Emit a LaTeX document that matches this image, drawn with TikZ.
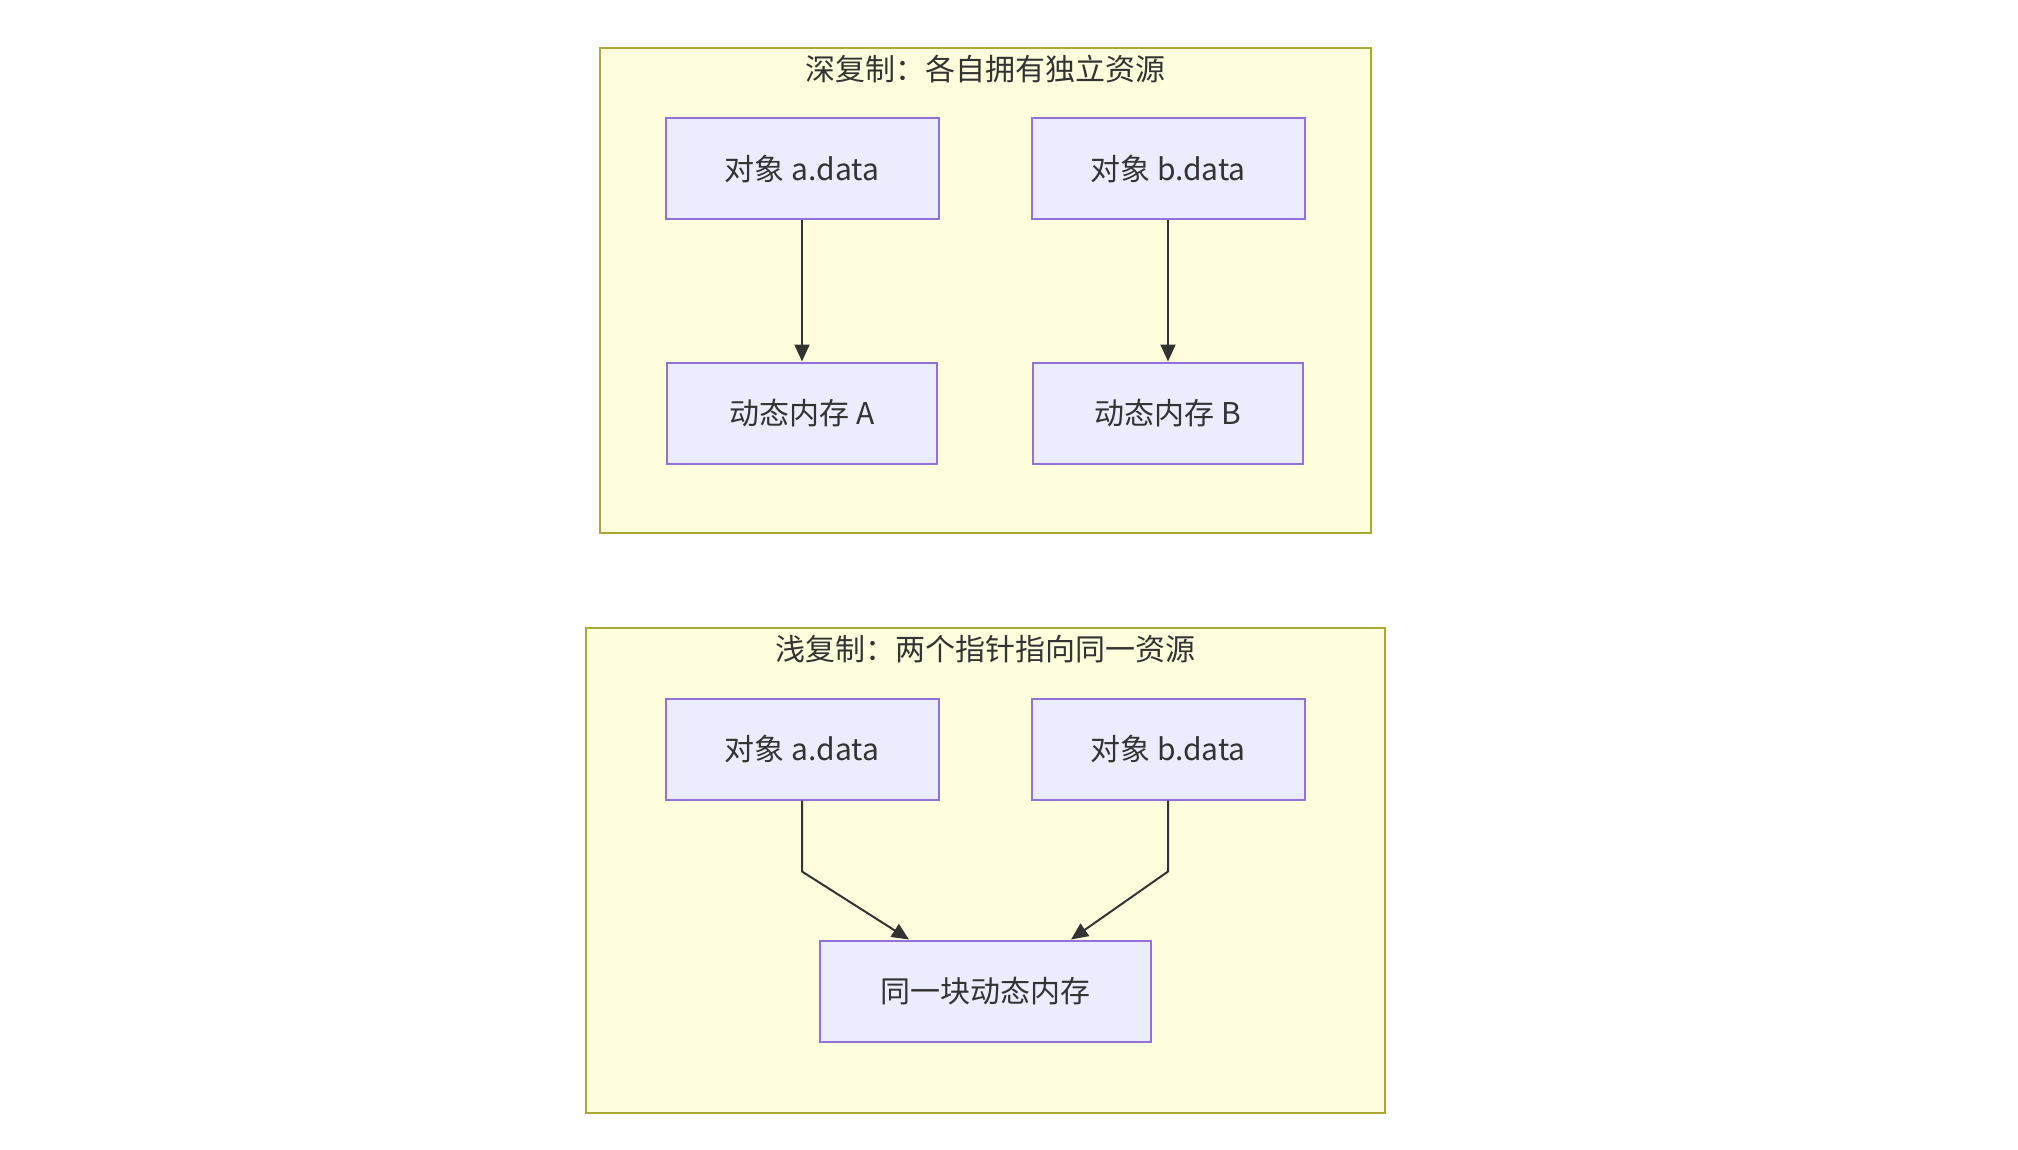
\documentclass[tikz,border=0pt]{standalone}
\usepackage{fontspec}
\setmainfont{Noto Sans CJK SC}
\usetikzlibrary{arrows.meta}

\definecolor{clusterfill}{HTML}{FFFFDE}
\definecolor{clusterline}{HTML}{AAAA33}
\definecolor{nodefill}{HTML}{ECECFF}
\definecolor{nodeline}{HTML}{9370DB}
\definecolor{textgray}{HTML}{333333}

\tikzset{every picture/.style={line width=1pt}}
\tikzset{
  cluster/.style={draw=clusterline, fill=clusterfill},
  clustertitle/.style={text=textgray, font=\fontsize{15pt}{18pt}\selectfont},
  box/.style={draw=nodeline, fill=nodefill, text=textgray, minimum width=136.5pt, minimum height=50.5pt, inner sep=0pt, font=\fontsize{15pt}{18pt}\selectfont},
  link/.style={draw=textgray, -{Triangle[length=8.5pt,width=7.5pt]}}
}

\begin{document}
\begin{tikzpicture}[x=0.5pt,y=0.5pt,yscale=-1,xscale=1]
		\useasboundingbox (0,0) rectangle (2018,1150);

		%Shape: Rectangle [deep copy cluster]
		\draw [cluster] (600,48) -- (1371,48) -- (1371,533) -- (600,533) -- cycle ;
		\node [clustertitle] (deeptitle) at (985,69) {深复制：各自拥有独立资源};

		%Deep copy nodes
		\node [box] (da) at (802,169) {对象 a.data};
		\node [box] (db) at (1168,169) {对象 b.data};
		\node [box, minimum width=135pt] (memA) at (802,413) {动态内存 A};
		\node [box, minimum width=135pt] (memB) at (1168,413) {动态内存 B};

		%Straight Lines
		\draw [link] (da) -- (memA) ;
		\draw [link] (db) -- (memB) ;

		%Shape: Rectangle [shallow copy cluster]
		\draw [cluster] (586,628) -- (1385,628) -- (1385,1113) -- (586,1113) -- cycle ;
		\node [clustertitle] (shallowtitle) at (985,649) {浅复制：两个指针指向同一资源};

		%Shallow copy nodes
		\node [box] (sa) at (802,749) {对象 a.data};
		\node [box] (sb) at (1168,749) {对象 b.data};
		\node [box, minimum width=165.5pt] (shared) at (985,991) {同一块动态内存};

		%Bent Lines
		\draw [link] (sa.south) -- ++(0,71) -- ([xshift=-38pt]shared.north) ;
		\draw [link] (sb.south) -- ++(0,71) -- ([xshift=43pt]shared.north) ;

\end{tikzpicture}
\end{document}
